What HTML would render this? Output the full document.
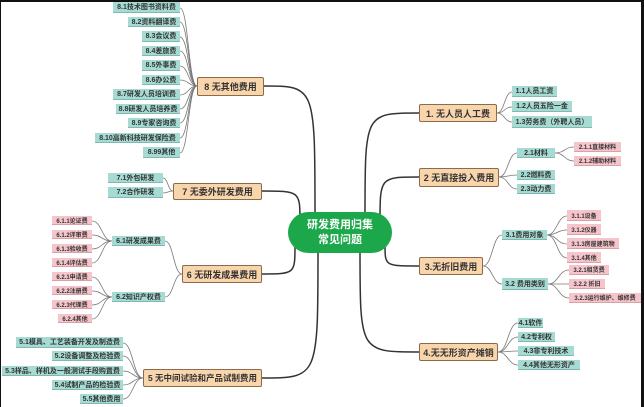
<!DOCTYPE html>
<html><head><meta charset="utf-8"><style>
html,body{margin:0;padding:0;background:#fff;}
#c{position:relative;width:644px;height:407px;overflow:hidden;background:#fff;font-family:"Liberation Sans","Noto Sans CJK SC",sans-serif;}
.n{position:absolute;box-sizing:border-box;display:flex;align-items:center;justify-content:center;white-space:nowrap;color:#333;overflow:hidden;}
.o{background:#f9d5ac;border:1.5px solid #8b6b4c;border-radius:2px;font-size:9px;font-weight:bold;}
.t{background:#a6dbd3;font-size:7px;font-weight:bold;border-bottom:1px solid #7fb9b0;}
.p{background:#f6c5cb;font-size:6px;font-weight:bold;border-bottom:1px solid #d9a0a8;}
.g{background:#1ca84a;color:#fff;border-radius:22px;font-size:11px;font-weight:bold;line-height:15px;text-align:center;}
svg{position:absolute;left:0;top:0;}
</style></head><body><div id="c">
<svg id="s" width="644" height="407"></svg>
<div class="n g" style="left:288px;top:212px;width:104px;height:41px;">研发费用归集<br>常见问题</div>

<div class="n o" style="left:419px;top:104px;width:78px;height:18px;">1. 无人员人工费</div>
<div class="n o" style="left:419px;top:168px;width:80px;height:19px;">2 无直接投入费用</div>
<div class="n o" style="left:419px;top:257px;width:64px;height:18px;">3.无折旧费用</div>
<div class="n o" style="left:419px;top:343px;width:79px;height:18px;">4.无无形资产摊销</div>
<div class="n o" style="left:197px;top:77px;width:67px;height:19px;">8 无其他费用</div>
<div class="n o" style="left:173px;top:183px;width:89px;height:17px;">7 无委外研发费用</div>
<div class="n o" style="left:182px;top:265px;width:80px;height:18px;">6 无研发成果费用</div>
<div class="n o" style="left:143px;top:369px;width:119px;height:18px;font-size:8.5px;">5 无中间试验和产品试制费用</div>

<div class="n t" style="left:512px;top:86px;width:45px;height:11px;">1.1人员工资</div>
<div class="n t" style="left:512px;top:101px;width:60px;height:11px;">1.2人员五险一金</div>
<div class="n t" style="left:512px;top:116px;width:80px;height:12px;">1.3劳务费（外聘人员）</div>
<div class="n t" style="left:517px;top:148px;width:38px;height:10px;">2.1材料</div>
<div class="n t" style="left:517px;top:170px;width:38px;height:10px;">2.2燃料费</div>
<div class="n t" style="left:517px;top:184px;width:38px;height:10px;">2.3动力费</div>
<div class="n p" style="left:574px;top:142px;width:47px;height:10px;">2.1.1直接材料</div>
<div class="n p" style="left:574px;top:156px;width:47px;height:10px;">2.1.2辅助材料</div>
<div class="n t" style="left:502px;top:230px;width:45px;height:10px;">3.1费用对象</div>
<div class="n t" style="left:502px;top:278px;width:46px;height:12px;">3.2 费用类别</div>
<div class="n p" style="left:567px;top:210px;width:34px;height:11px;">3.1.1设备</div>
<div class="n p" style="left:567px;top:224px;width:34px;height:11px;">3.1.2仪器</div>
<div class="n p" style="left:567px;top:238px;width:52px;height:11px;">3.1.3房屋建筑物</div>
<div class="n p" style="left:567px;top:252px;width:34px;height:11px;">3.1.4其他</div>
<div class="n p" style="left:569px;top:265px;width:40px;height:10px;">3.2.1租赁费</div>
<div class="n p" style="left:569px;top:279px;width:36px;height:10px;">3.2.2 折旧</div>
<div class="n p" style="left:569px;top:293px;width:72px;height:10px;">3.2.3运行维护、维修费</div>
<div class="n t" style="left:518px;top:318px;width:25px;height:10px;">4.1软件</div>
<div class="n t" style="left:518px;top:332px;width:37px;height:10px;">4.2专利权</div>
<div class="n t" style="left:518px;top:346px;width:56px;height:10px;">4.3非专利技术</div>
<div class="n t" style="left:518px;top:360px;width:62px;height:10px;">4.4其他无形资产</div>

<div class="n t" style="left:113px;top:2px;width:67px;height:11px;">8.1技术图书资料费</div>
<div class="n t" style="left:128px;top:17px;width:52px;height:10px;">8.2资料翻译费</div>
<div class="n t" style="left:142px;top:31px;width:38px;height:11px;">8.3会议费</div>
<div class="n t" style="left:142px;top:46px;width:38px;height:10px;">8.4差旅费</div>
<div class="n t" style="left:142px;top:60px;width:38px;height:11px;">8.5外事费</div>
<div class="n t" style="left:142px;top:75px;width:38px;height:10px;">8.6办公费</div>
<div class="n t" style="left:113px;top:89px;width:67px;height:11px;">8.7研发人员培训费</div>
<div class="n t" style="left:116px;top:104px;width:64px;height:10px;">8.8研发人员培养费</div>
<div class="n t" style="left:128px;top:118px;width:52px;height:10px;">8.9专家咨询费</div>
<div class="n t" style="left:95px;top:133px;width:85px;height:10px;">8.10高新科技研发保险费</div>
<div class="n t" style="left:143px;top:147px;width:37px;height:11px;">8.99其他</div>
<div class="n t" style="left:108px;top:173px;width:55px;height:10px;">7.1外包研发</div>
<div class="n t" style="left:108px;top:187px;width:55px;height:11px;">7.2合作研发</div>
<div class="n t" style="left:112px;top:236px;width:53px;height:10px;">6.1研发成果费</div>
<div class="n t" style="left:112px;top:292px;width:53px;height:10px;">6.2知识产权费</div>
<div class="n p" style="left:52px;top:216px;width:40px;height:9px;">6.1.1论证费</div>
<div class="n p" style="left:52px;top:230px;width:40px;height:9px;">6.1.2评审费</div>
<div class="n p" style="left:52px;top:244px;width:40px;height:9px;">6.1.3验收费</div>
<div class="n p" style="left:52px;top:258px;width:40px;height:9px;">6.1.4评估费</div>
<div class="n p" style="left:52px;top:272px;width:40px;height:9px;">6.2.1申请费</div>
<div class="n p" style="left:52px;top:286px;width:40px;height:9px;">6.2.2注册费</div>
<div class="n p" style="left:52px;top:300px;width:40px;height:9px;">6.2.3代理费</div>
<div class="n p" style="left:58px;top:314px;width:34px;height:9px;">6.2.4其他</div>
<div class="n t" style="left:16px;top:337px;width:107px;height:11px;">5.1模具、工艺装备开发及制造费</div>
<div class="n t" style="left:52px;top:351px;width:71px;height:10px;">5.2设备调整及检验费</div>
<div class="n t" style="left:2px;top:366px;width:121px;height:10px;">5.3样品、样机及一般测试手段购置费</div>
<div class="n t" style="left:52px;top:380px;width:71px;height:10px;">5.4试制产品的检验费</div>
<div class="n t" style="left:80px;top:394px;width:43px;height:10px;">5.5其他费用</div>

<div style="position:absolute;left:0;top:0;width:644px;height:2px;background:#111"></div>
<div style="position:absolute;left:0;top:0;width:1px;height:407px;background:#111"></div>
<div style="position:absolute;left:641px;top:0;width:3px;height:407px;background:#111"></div>
</div>
<script>
var s=document.getElementById('s'),h='';
function c(x1,y1,x2,y2,col,w){var m=(x1+x2)/2;h+='<path d="M'+x1+','+y1+' C'+m+','+y1+' '+m+','+y2+' '+x2+','+y2+'" fill="none" stroke="'+col+'" stroke-width="'+w+'"/>';}
function v(x1,y1,x2,y2){h+='<path d="M'+x1+','+y1+' C'+x1+','+y2+' '+x1+','+y2+' '+x2+','+y2+'" fill="none" stroke="#333" stroke-width="1.5"/>';}
v(365,214,419,113);v(380,222,419,177);v(385,245,419,266);v(360,252,419,352);
v(315,214,264,86);v(300,222,262,191);v(295,245,262,274);v(318,252,262,378);
var G='#777';
function f(px,py,list){list.forEach(function(k){c(px,py,k[0],k[1],G,0.8);});}
f(497,113,[[512,92],[512,107],[512,122]]);
f(499,177,[[517,153],[517,175],[517,189]]);
f(555,153,[[574,147],[574,161]]);
f(483,266,[[502,235],[502,284]]);
f(547,235,[[567,216],[567,230],[567,244],[567,258]]);
f(548,284,[[569,270],[569,284],[569,298]]);
f(498,352,[[518,323],[518,337],[518,351],[518,365]]);
f(197,86,[[180,8],[180,22],[180,37],[180,51],[180,66],[180,80],[180,95],[180,109],[180,123],[180,138],[180,153]]);
f(173,191,[[163,178],[163,193]]);
f(182,274,[[165,241],[165,297]]);
f(112,241,[[92,221],[92,235],[92,249],[92,263]]);
f(112,297,[[92,277],[92,291],[92,305],[92,319]]);
f(143,378,[[123,343],[123,356],[123,371],[123,385],[123,399]]);
s.innerHTML=h;
</script>
</body></html>
